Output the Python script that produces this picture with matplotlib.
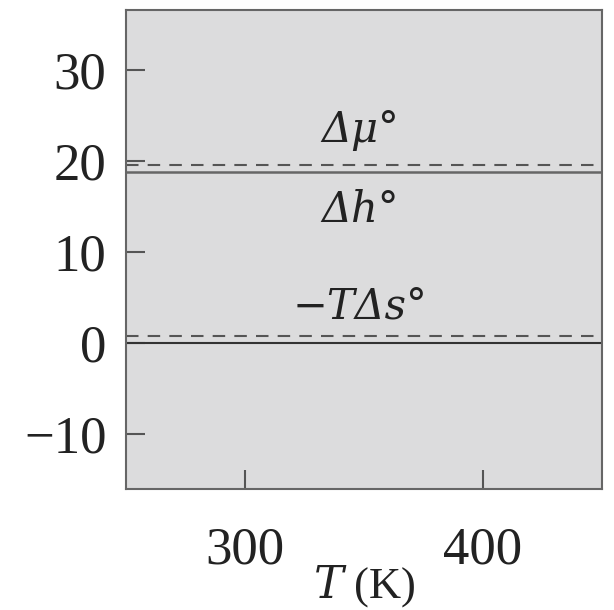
import matplotlib
matplotlib.use("Agg")
import matplotlib.pyplot as plt

T_range = [250, 450]
dh = 18.8
dmu = 19.6
minus_TdS = 0.8
zero = 0.0
xticks = [300, 400]
yticks = [-10, 0, 10, 20, 30]
labels = ["Δμ°", "Δh°", "−TΔs°"]
label_y = [22.1, 13.3, 2.7]
label_x = 348.5

plt.rcParams['font.family'] = ['Liberation Serif', 'DejaVu Serif']
plt.rcParams['mathtext.fontset'] = 'dejavuserif'

fig = plt.figure(figsize=(6.14, 6.10), dpi=100)
ax = fig.add_axes([126/614, 1-489/610, (602-126)/614, (489-10)/610])
ax.set_facecolor('#dcdcdd')
ax.set_xlim(*T_range)
ax.set_ylim(-16, 36.6)

dash = (0, (6, 4.4))
ax.plot(T_range, [zero, zero], color='#333333', lw=1.5)
ax.plot(T_range, [minus_TdS]*2, color='#555555', lw=1.5, ls=dash)
ax.plot(T_range, [dh]*2, color='#666666', lw=1.8)
ax.plot(T_range, [dmu]*2, color='#555555', lw=1.5, ls=dash)

for t, y in zip(labels, label_y):
    ax.text(label_x, y, t, ha='center', va='baseline', fontsize=30,
            family='DejaVu Serif', style='italic', color='#222222')

ax.set_xticks(xticks)
ax.set_yticks(yticks)
ax.set_yticklabels([str(v).replace('-', '−') for v in yticks])
ax.tick_params(axis='both', direction='in', length=14, width=1.5, color='#555555', labelsize=38, labelcolor='#222222')
ax.tick_params(axis='y', pad=14)
ax.tick_params(axis='x', pad=27)
for s in ax.spines.values():
    s.set_color('#666666')
    s.set_linewidth(1.5)

ax.set_xlabel(r"$\mathit{T}$" + " (K)", fontsize=32, color='#222222')
ax.xaxis.set_label_coords(0.5, -0.155)
ax.xaxis.label.set_va('top')

fig.savefig("out.png", dpi=100, facecolor='white')
